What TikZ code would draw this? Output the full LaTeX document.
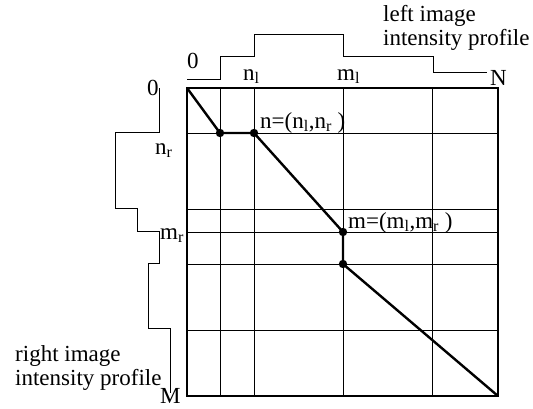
\documentclass[tikz,border=0pt]{standalone}
\usepackage{fontspec}
\setmainfont{Liberation Serif}
\usetikzlibrary{calc}
\tikzset{
  gridline/.style={black, line width=0.9pt},
  frame/.style={black, line width=2.8pt},
  profile/.style={black, line width=0.9pt},
  pathline/.style={black, line width=2.4pt},
  dot/.style={black},
  lbl/.style={anchor=base west, inner sep=0pt},
}

\begin{document}
\begin{tikzpicture}[x=1pt, y=-1pt, font=\fontsize{23}{24}\selectfont]
    \useasboundingbox (0,0) rectangle (533,408);
    % grid of the square
    \foreach \x in {220,254,343,432}
        \draw[gridline] (\x,88) -- (\x,396);
    \foreach \y in {133,209,232,264,330}
        \draw[gridline] (187,\y) -- (498,\y);
    \draw[frame] (187,88) rectangle (498,396);
    % intensity profiles
    \draw[profile] (187,79) -- (220,79) -- (220,56) -- (254,56) -- (254,34) -- (343,34)
        -- (343,56) -- (433,56) -- (433,72) -- (487,72);
    \draw[profile] (159,88) -- (159,132) -- (115,132) -- (115,208) -- (137,208) -- (137,231)
        -- (159,231) -- (159,263) -- (148,263) -- (148,328) -- (170,328) -- (170,393);
    % matching path
    \coordinate (start) at (187,88);
    \coordinate (n0) at (220,133);
    \coordinate (n) at (254,133);
    \coordinate (m) at (343,232);
    \coordinate (m1) at (343,264);
    \coordinate (end) at (498,396);
    \draw[pathline, line join=round] (start) -- (n0) -- (n) -- (m) -- (m1) -- (end);
    \foreach \p in {n0,n,m,m1}
        \fill[dot] (\p) circle (4.2);
    % labels
    \node[lbl] (zerotop) at (187,68) {0};
    \node[lbl] (nl) at (243,80) {n\textsubscript{l}};
    \node[lbl] (ml) at (337,80) {m\textsubscript{l}};
    \node[lbl] (bigN) at (490,85) {N};
    \node[lbl] (zeroleft) at (147,95) {0};
    \node[lbl] (nr) at (155,154) {n\textsubscript{r}};
    \node[lbl] (mr) at (160,239) {m\textsubscript{r}};
    \node[lbl] (bigM) at (160,403) {M};
    \node[lbl] (nlabel) at (260,128) {n=(n\textsubscript{l},n\textsubscript{r}\ )};
    \node[lbl] (mlabel) at (348,228) {m=(m\textsubscript{l},m\textsubscript{r}\ )};
    \node[anchor=north west, align=left, inner sep=0pt] (lefttext) at (383,5)
        {left image\\intensity profile};
    \node[anchor=north west, align=left, inner sep=0pt] (righttext) at (15,345)
        {right image\\intensity profile};
\end{tikzpicture}
\end{document}
